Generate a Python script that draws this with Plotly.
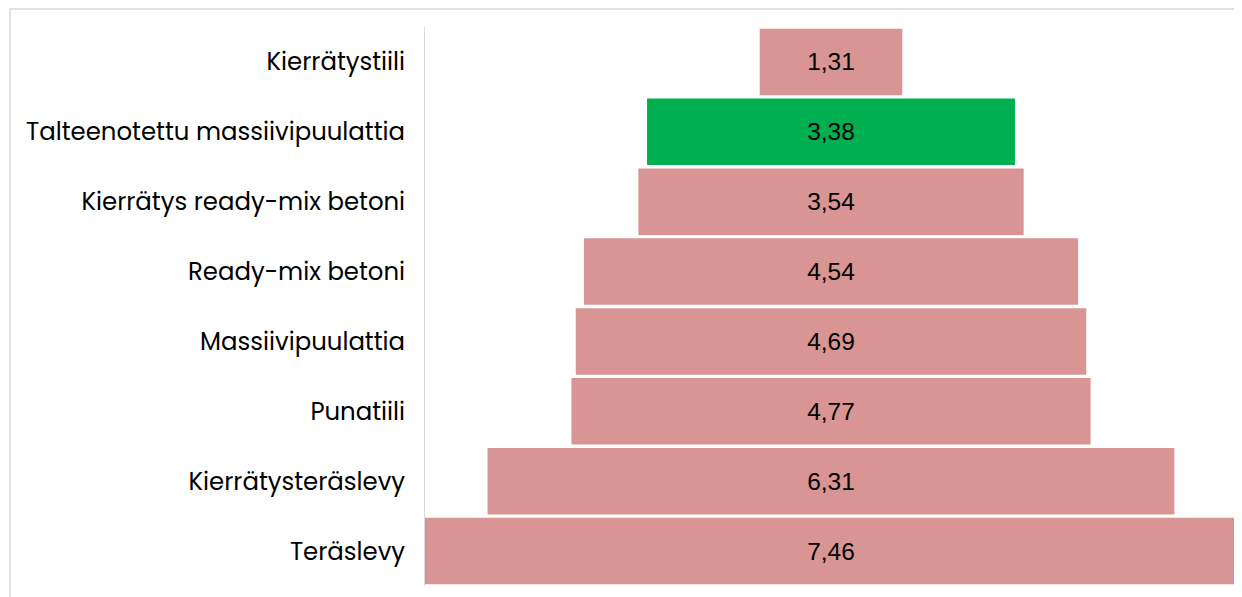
import plotly.graph_objects as go

categories = ["Kierrätystiili", "Talteenotettu massiivipuulattia", "Kierrätys ready-mix betoni",
              "Ready-mix betoni", "Massiivipuulattia", "Punatiili", "Kierrätysteräslevy", "Teräslevy"]
values = [1.31, 3.38, 3.54, 4.54, 4.69, 4.77, 6.31, 7.46]
highlight = "Talteenotettu massiivipuulattia"

PINK = "#D99594"
GREEN = "#00B050"
colors = [GREEN if c == highlight else PINK for c in categories]

W, H = 1242, 597
ml, mr, mt, mb = 417, 13, 19, 19

fig = go.Figure(go.Funnel(
    y=categories, x=values,
    marker=dict(color=colors, line=dict(width=0)),
    textinfo="value",
    texttemplate="%{x:.2f}",
    textposition="inside",
    constraintext="none",
    insidetextfont=dict(family="Liberation Sans, Arial", size=24.5, color="black"),
    connector=dict(visible=False),
    hoverinfo="skip",
))

half = max(values) / 2
pw = W - ml - mr
ph = H - mt - mb

fig.update_layout(
    width=W, height=H,
    margin=dict(l=ml, r=mr, t=mt, b=mb),
    paper_bgcolor="white", plot_bgcolor="white",
    separators=", ",
    funnelgap=0.05,
    showlegend=False,
    xaxis=dict(visible=False, range=[-half, half]),
    yaxis=dict(showline=True, linecolor="#d9d9d9", linewidth=1, ticks="",
               showgrid=False, ticklabelstandoff=14,
               tickfont=dict(family="Poppins, Open Sans, sans-serif", size=24.4, color="#000000")),
    shapes=[dict(type="rect", xref="paper", yref="paper",
                 x0=(2 - ml) / pw, x1=(W + 30 - ml) / pw,
                 y0=-(mb + 30) / ph, y1=(H - mb - 1) / ph,
                 line=dict(color="#d9d9d9", width=1.5), fillcolor="rgba(0,0,0,0)", layer="below")],
)

fig.write_html("out.html")
